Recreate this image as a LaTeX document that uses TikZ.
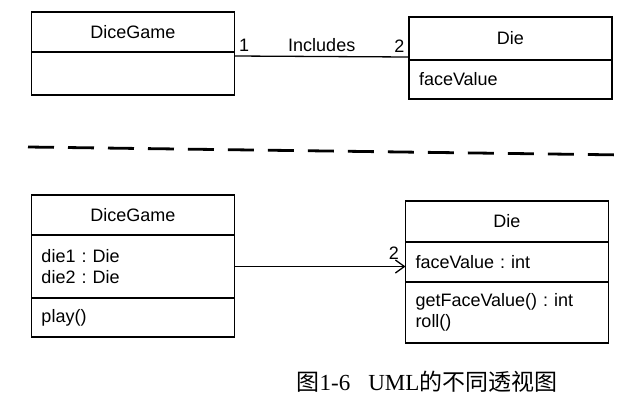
\documentclass[tikz,border=0pt]{standalone}
\usepackage{fontspec}
\setmainfont{Liberation Sans}
\newfontfamily\cjk{Noto Sans CJK SC}
\newfontfamily\capserif{Liberation Serif}
\usetikzlibrary{arrows.meta,calc,positioning}
\frenchspacing
\tikzset{dep/.style={-{Straight Barb[length=9pt, width=13pt]}, line width=1.3pt},
  assoc/.style={line width=1.3pt},
  part/.style={draw, line width=1.5pt, text width=183pt, inner xsep=10pt, inner ysep=0pt, outer sep=0pt, align=left},
  cname/.style={part, align=center},
  mult/.style={inner sep=4pt}}

\begin{document}
\begin{tikzpicture}[x=1pt, y=-1pt, font=\fontsize{18}{21}\selectfont, node distance=0pt]
  \useasboundingbox (0,0) rectangle (625,413);
  % domain model
  \node[cname, minimum height=40pt] (gAt) at (133,32) {DiceGame};
  \node[part, minimum height=43pt, below=of gAt] (gAb) {};
  \node[cname, minimum height=43pt] (dAt) at (510.5,38.5) {Die};
  \node[part, minimum height=39pt, below=of dAt] (dAb) {faceValue};
  \draw[assoc] ($(gAb.north east)+(0,4)$) -- ($(dAt.south west)+(0,-3)$)
    node[pos=0, above right, mult] {1}
    node[pos=0.5, above, mult] {Includes}
    node[pos=1, above left, mult] {2};
  % separator
  \draw[line width=2.8pt, dash pattern=on 26pt off 14pt] (28,147) -- (625,155);
  % design model
  \node[cname, minimum height=40pt] (gBt) at (133,215) {DiceGame};
  \node[part, minimum height=63pt, below=of gBt] (gBa) {die1 : Die\\die2 : Die};
  \node[part, minimum height=39pt, below=of gBa] (gBo) {play()};
  \node[cname, minimum height=41pt] (dBt) at (507,221.5) {Die};
  \node[part, minimum height=40pt, below=of dBt] (dBa) {faceValue : int};
  \node[part, minimum height=61pt, below=of dBa] (dBo) {getFaceValue() : int\\roll()};
  \draw[dep] (gBa.east) -- (gBa.east -| dBa.west)
    node[pos=1, above left, mult, inner sep=6pt] {2};
  % caption
  \node (cap) at (427,382) {\fontsize{23}{27}\selectfont\cjk 图\capserif 1-6\hspace{18pt}UML\cjk 的不同透视图};
\end{tikzpicture}
\end{document}
